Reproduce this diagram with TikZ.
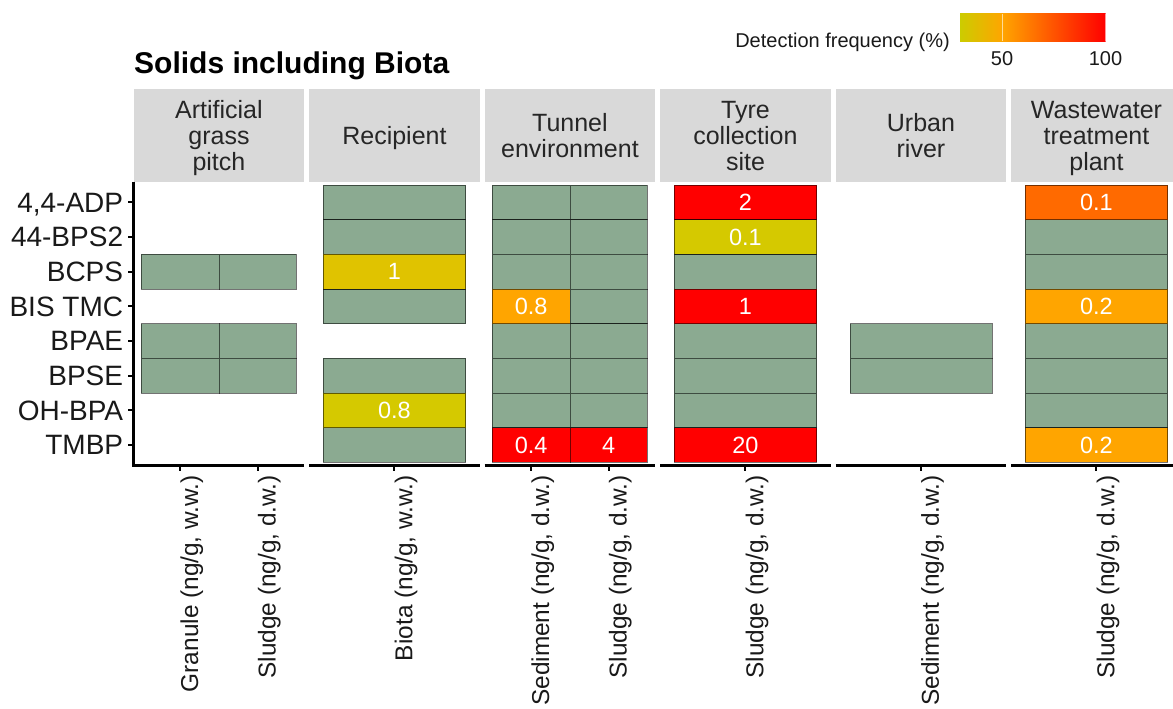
\documentclass[tikz,border=0pt]{standalone}
\usepackage{fontspec}
\setmainfont{Liberation Sans}

\definecolor{tilegreen}{HTML}{8BAA91}
\definecolor{stripgrey}{HTML}{D9D9D9}
\definecolor{dfyellowA}{HTML}{D5C900}
\definecolor{dfyellowB}{HTML}{E0C300}
\definecolor{dforange}{HTML}{FFA500}
\definecolor{dfdeep}{HTML}{FF6A00}
\definecolor{dfred}{HTML}{FF0000}
\definecolor{dflow}{HTML}{CCCC00}

\newcommand\atsize[1]{\fontsize{#1}{#1}\selectfont}

% one heat-map cell: x0, x1, row (1 = top), fill, value, node name
\newcommand\hmtile[6]{%
  \pgfmathsetmacro\tya{185+34.66*(#3-1)}%
  \pgfmathsetmacro\tyb{\tya+34.66}%
  \filldraw[tileframe, fill=#4] (#1,\tya) rectangle (#2,\tyb);
  \if\relax\detokenize{#5}\relax\else
    \node[cellval] (#6) at ({(#1+#2)/2},{(\tya+\tyb)/2}) {#5};
  \fi}

\begin{document}
\begin{tikzpicture}[x=1pt,y=-1pt,
  tileframe/.style={draw=black, draw opacity=0.55, line width=0.8pt},
  cellval/.style={inner sep=0pt, text=white, font=\atsize{23.5}},
  axisline/.style={line width=2.7pt, black},
  tickline/.style={line width=2pt, black},
  striptext/.style={anchor=base, inner sep=0pt, font=\atsize{25}, text=black!85},
  ylab/.style={anchor=base east, inner sep=0pt, font=\atsize{28}, text=black!90},
  xlab/.style={rotate=90, anchor=north east, inner sep=0pt, font=\atsize{24.4}, text=black!90},
  leglab/.style={inner sep=0pt, font=\atsize{20}, text=black!90}]
\useasboundingbox (0,0) rectangle (1173,709);
\clip (0,0) rectangle (1173,709);

% title
\node[anchor=base west, inner sep=0pt, font=\bfseries\atsize{30}] (title) at (134,73.3) {Solids including Biota};

% colour bar legend
\shade[left color=dflow, right color=dforange] (960,14) rectangle (1002.4,41.3);
\shade[left color=dforange, right color=dfred] (1002,14) rectangle (1105.7,41.3);
\draw[white, opacity=0.6, line width=0.8pt] (1002,14) -- (1002,41.3);
\draw[white, opacity=0.6, line width=0.8pt] (1105,14) -- (1105,41.3);
\node[leglab] (lg50) at (1002,59) {50};
\node[leglab] (lg100) at (1105.5,59) {100};
\node[leglab, anchor=base east] (lgtitle) at (950,47.7) {Detection frequency (\%)};

% facet strips
\foreach \L in {133.7,309.2,484.7,660.2,835.7,1011.2}
  \fill[stripgrey] (\L,89.5) rectangle ({\L+170.5},181.5);
\node[striptext] (s1a) at (218.95,118.75) {Artificial};
\node[striptext] (s1b) at (218.95,144.45) {grass};
\node[striptext] (s1c) at (218.95,170.15) {pitch};
\node[striptext] (s2a) at (394.45,144.45) {Recipient};
\node[striptext] (s3a) at (569.95,131.6) {Tunnel};
\node[striptext] (s3b) at (569.95,157.3) {environment};
\node[striptext] (s4a) at (745.45,118.75) {Tyre};
\node[striptext] (s4b) at (745.45,144.45) {collection};
\node[striptext] (s4c) at (745.45,170.15) {site};
\node[striptext] (s5a) at (920.95,131.6) {Urban};
\node[striptext] (s5b) at (920.95,157.3) {river};
\node[striptext] (s6a) at (1096.45,118.75) {Wastewater};
\node[striptext] (s6b) at (1096.45,144.45) {treatment};
\node[striptext] (s6c) at (1096.45,170.15) {plant};

% Artificial grass pitch: granule and sludge
\foreach \r in {3,5,6} {
  \hmtile{141.45}{218.95}{\r}{tilegreen}{}{}
  \hmtile{218.95}{296.45}{\r}{tilegreen}{}{}
}

% Recipient: biota
\foreach \r in {1,2,4,6,8} {\hmtile{323.4}{465.5}{\r}{tilegreen}{}{}}
\hmtile{323.4}{465.5}{3}{dfyellowB}{1}{rcBCPS}
\hmtile{323.4}{465.5}{7}{dfyellowA}{0.8}{rcOHBPA}

% Tunnel environment: sediment and sludge
\foreach \r in {1,2,3,5,6,7} {\hmtile{492.45}{569.95}{\r}{tilegreen}{}{}}
\hmtile{492.45}{569.95}{4}{dforange}{0.8}{tsBIS}
\hmtile{492.45}{569.95}{8}{dfred}{0.4}{tsTMBP}
\foreach \r in {1,...,7} {\hmtile{569.95}{647.45}{\r}{tilegreen}{}{}}
\hmtile{569.95}{647.45}{8}{dfred}{4}{tlTMBP}

% Tyre collection site: sludge
\foreach \r in {3,5,6,7} {\hmtile{674.4}{816.5}{\r}{tilegreen}{}{}}
\hmtile{674.4}{816.5}{1}{dfred}{2}{tyADP}
\hmtile{674.4}{816.5}{2}{dfyellowA}{0.1}{tyBPS}
\hmtile{674.4}{816.5}{4}{dfred}{1}{tyBIS}
\hmtile{674.4}{816.5}{8}{dfred}{20}{tyTMBP}

% Urban river: sediment
\foreach \r in {5,6} {\hmtile{849.9}{992.0}{\r}{tilegreen}{}{}}

% Wastewater treatment plant: sludge
\foreach \r in {2,3,5,6,7} {\hmtile{1025.4}{1167.5}{\r}{tilegreen}{}{}}
\hmtile{1025.4}{1167.5}{1}{dfdeep}{0.1}{wwADP}
\hmtile{1025.4}{1167.5}{4}{dforange}{0.2}{wwBIS}
\hmtile{1025.4}{1167.5}{8}{dforange}{0.2}{wwTMBP}

% axes
\draw[axisline] (133.7,181.5) -- (133.7,465.5) -- (304.2,465.5);
\foreach \L in {309.2,484.7,660.2,835.7,1011.2}
  \draw[axisline] (\L,465.5) -- ({\L+170.5},465.5);
\foreach \y in {202.33,236.99,271.65,306.31,340.97,375.63,410.29,444.95}
  \draw[tickline] (128.3,\y) -- (133.7,\y);
\foreach \x in {180.2,257.7,394.45,531.2,608.7,745.45,920.95,1096.45}
  \draw[tickline] (\x,465.5) -- (\x,471);

% compound labels
\node[ylab] (yADP) at (123.3,212.0) {4,4-ADP};
\node[ylab] (yBPS) at (123.3,246.7) {44-BPS2};
\node[ylab] (yBCPS) at (123.3,281.4) {BCPS};
\node[ylab] (yBIS) at (123.3,316.0) {BIS TMC};
\node[ylab] (yBPAE) at (123.3,350.7) {BPAE};
\node[ylab] (yBPSE) at (123.3,385.3) {BPSE};
\node[ylab] (yOH) at (123.3,420.0) {OH-BPA};
\node[ylab] (yTMBP) at (123.3,454.7) {TMBP};

% matrix labels
\node[xlab] (x1) at (180.2,475) {Granule (ng/g, w.w.)};
\node[xlab] (x2) at (257.7,475) {Sludge (ng/g, d.w.)};
\node[xlab] (x3) at (394.45,475) {Biota (ng/g, w.w.)};
\node[xlab] (x4) at (531.2,475) {Sediment (ng/g, d.w.)};
\node[xlab] (x5) at (608.7,475) {Sludge (ng/g, d.w.)};
\node[xlab] (x6) at (745.45,475) {Sludge (ng/g, d.w.)};
\node[xlab] (x7) at (920.95,475) {Sediment (ng/g, d.w.)};
\node[xlab] (x8) at (1096.45,475) {Sludge (ng/g, d.w.)};
\end{tikzpicture}
\end{document}
